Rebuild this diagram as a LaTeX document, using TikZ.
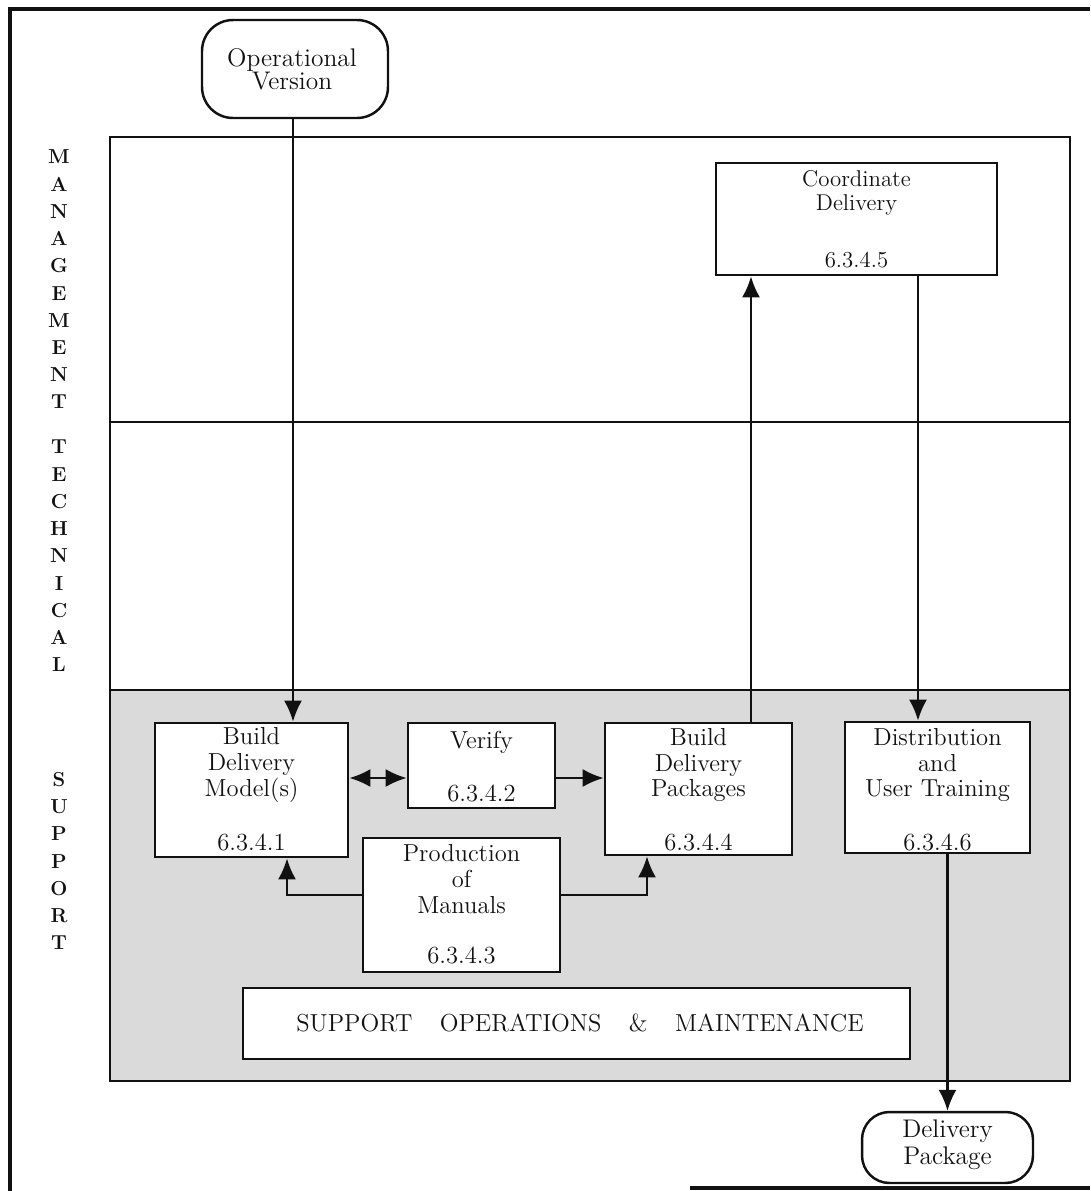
\documentclass[tikz,border=0pt]{standalone}
\usepackage{tikz}
\usetikzlibrary{arrows.meta}
\definecolor{SOShade}{HTML}{DADADA}
\definecolor{SOInk}{HTML}{111111}
\tikzset{
  procbox/.style={draw=SOInk,line width=1.6pt,fill=white,inner sep=0pt},
  termbox/.style={draw=SOInk,line width=1.4pt,fill=white,inner sep=0pt,rounded corners=0.62cm},
  boxtext/.style={inner sep=0pt,align=center,text=SOInk,font=\fontsize{14}{14.6}\selectfont},
  termtext/.style={inner sep=0pt,align=center,text=SOInk,font=\fontsize{14.5}{13.2}\selectfont},
  lanetext/.style={inner sep=0pt,align=center,text=SOInk,font=\fontsize{11.5}{15.5}\selectfont\bfseries},
  flow/.style={draw=SOInk,line width=1.2pt,-{Latex[length=0.42cm,width=0.36cm]}},
  dflow/.style={draw=SOInk,line width=1.2pt,{Latex[length=0.42cm,width=0.36cm]}-{Latex[length=0.42cm,width=0.36cm]}}
}
\begin{document}
\begin{tikzpicture}[x=0.02cm,y=-0.02cm]
\path[use as bounding box] (0,0) rectangle (1090,1191);
\draw[SOInk,line width=2.3pt] (10,1191) -- (10,9) -- (1090,9);
\draw[SOInk,line width=2pt] (690,1188) -- (1090,1188);
\fill[SOShade] (110,690) rectangle (1070,1081);
\draw[SOInk,line width=1.6pt] (110,137) rectangle (1070,1081);
\draw[SOInk,line width=1.4pt] (110,422) -- (1070,422);
\draw[SOInk,line width=1.4pt] (110,690) -- (1070,690);
\node[lanetext] (mgmt) at (59,279.5) {M\\A\\N\\A\\G\\E\\M\\E\\N\\T};
\node[lanetext] (tech) at (59,556) {T\\E\\C\\H\\N\\I\\C\\A\\L};
\node[lanetext] (supp) at (59,861) {S\\U\\P\\P\\O\\R\\T};
\node[termbox,minimum width=3.72cm,minimum height=1.96cm] (opv) at (295,69) {};
\node[termtext] (opvt) at (292,69) {Operational\\Version};
\node[procbox,minimum width=5.62cm,minimum height=2.24cm] (cdl) at (856.5,219) {};
\node[boxtext,font=\fontsize{13}{13.5}\selectfont] (cdlt) at (856.5,193) {Coordinate\\Delivery};
\node[boxtext,font=\fontsize{13}{13.5}\selectfont] (cdln) at (856.5,260) {6.3.4.5};
\node[procbox,minimum width=3.86cm,minimum height=2.68cm] (bdm) at (251.5,790) {};
\node[boxtext] (bdmt) at (251.5,765) {Build\\Delivery\\Model(s)};
\node[boxtext] (bdmn) at (251.5,842) {6.3.4.1};
\node[procbox,minimum width=2.94cm,minimum height=1.70cm] (ver) at (481.5,765.5) {};
\node[boxtext] (vert) at (481.5,742) {Verify};
\node[boxtext] (vern) at (481.5,793) {6.3.4.2};
\node[procbox,minimum width=3.74cm,minimum height=2.64cm] (bdp) at (698.5,789) {};
\node[boxtext] (bdpt) at (698.5,765) {Build\\Delivery\\Packages};
\node[boxtext] (bdpn) at (698.5,842) {6.3.4.4};
\node[procbox,minimum width=3.70cm,minimum height=2.62cm] (dut) at (937.5,787.5) {};
\node[boxtext] (dutt) at (937.5,765) {Distribution\\and\\User Training};
\node[boxtext] (dutn) at (937.5,842) {6.3.4.6};
\node[procbox,minimum width=3.94cm,minimum height=2.68cm] (prm) at (461.5,905) {};
\node[boxtext] (prmt) at (461.5,879) {Production\\of\\Manuals};
\node[boxtext] (prmn) at (461.5,955) {6.3.4.3};
\node[procbox,minimum width=13.34cm,minimum height=1.42cm] (som) at (576.5,1023.5) {};
\node[boxtext] (somt) at (580,1023) {SUPPORT\hspace{0.55cm}OPERATIONS\hspace{0.55cm}\&\hspace{0.55cm}MAINTENANCE};
\node[termbox,minimum width=3.42cm,minimum height=1.42cm,rounded corners=0.55cm] (dpk) at (947.5,1147.5) {};
\node[termtext,font=\fontsize{14.5}{15.5}\selectfont] (dpkt) at (947.5,1145) {Delivery\\Package};
\coordinate (lvl) at (0,778);
\coordinate (ml) at (287,895);
\coordinate (mr) at (647,895);
\coordinate (up) at (751,0);
\coordinate (dn) at (918,0);
\draw[flow] (opv.south -| 293,0) -- (bdm.north -| 293,0);
\draw[dflow] (bdm.east |- lvl) -- (ver.west |- lvl);
\draw[flow] (ver.east |- lvl) -- (bdp.west |- lvl);
\draw[flow] (prm.west |- ml) -| (ml |- bdm.south);
\draw[flow] (prm.east |- mr) -| (mr |- bdp.south);
\draw[flow] (bdp.north -| up) -- (cdl.south -| up);
\draw[flow] (cdl.south -| dn) -- (dut.north -| dn);
\draw[flow] (dut.south -| dpk.north) -- (dpk.north);
\end{tikzpicture}
\end{document}
